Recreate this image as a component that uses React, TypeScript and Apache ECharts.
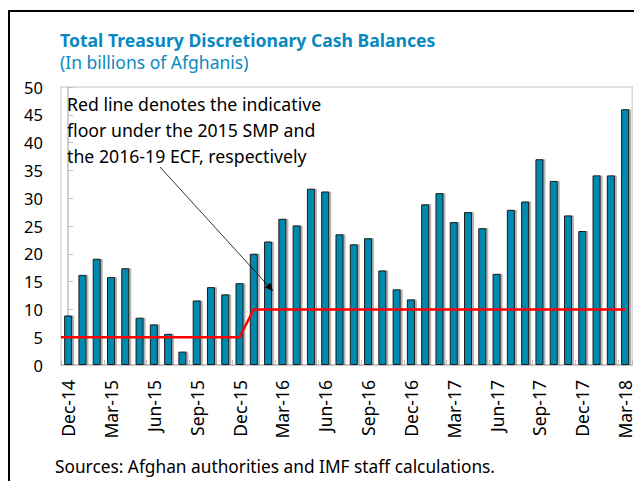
import React, { useEffect, useRef } from "react";
import * as echarts from "echarts";

const categories = [
  "Dec-14","Jan-15","Feb-15","Mar-15","Apr-15","May-15","Jun-15","Jul-15","Aug-15","Sep-15","Oct-15","Nov-15",
  "Dec-15","Jan-16","Feb-16","Mar-16","Apr-16","May-16","Jun-16","Jul-16","Aug-16","Sep-16","Oct-16","Nov-16",
  "Dec-16","Jan-17","Feb-17","Mar-17","Apr-17","May-17","Jun-17","Jul-17","Aug-17","Sep-17","Oct-17","Nov-17",
  "Dec-17","Jan-18","Feb-18","Mar-18",
];

const cashBalances = [
  8.9, 16.2, 19.1, 15.8, 17.4, 8.5, 7.3, 5.6, 2.4, 11.6, 14.0, 12.7,
  14.7, 20.0, 22.2, 26.3, 25.1, 31.7, 31.2, 23.5, 21.7, 22.8, 17.0, 13.6,
  11.8, 28.9, 30.9, 25.7, 27.5, 24.6, 16.4, 27.9, 29.4, 37.0, 33.1, 26.9,
  24.1, 34.1, 34.1, 46.0,
];

const indicativeFloor = [
  5, 5, 5, 5, 5, 5, 5, 5, 5, 5, 5, 5,
  5, 10, 10, 10, 10, 10, 10, 10, 10, 10, 10, 10,
  10, 10, 10, 10, 10, 10, 10, 10, 10, 10, 10, 10,
  10, 10, 10, 10,
];

const yTicks = { min: 0, max: 50, interval: 5 };

const titleText = "Total Treasury Discretionary Cash Balances";
const subtitleText = "(In billions of Afghanis)";
const noteLines = [
  "Red line denotes the indicative",
  "floor under the 2015 SMP and",
  "the 2016-19 ECF, respectively",
];
const sourceText = "Sources: Afghan authorities and IMF staff calculations.";

const FONT = "'Noto Sans', 'Open Sans', sans-serif";

export default function App() {
  const ref = useRef<HTMLDivElement>(null);

  useEffect(() => {
    if (!ref.current) return;
    const chart = echarts.init(ref.current, undefined, { renderer: "svg" });

    const lineData: number[][] = [[-0.5, indicativeFloor[0]]].concat(
      indicativeFloor.map((v, i) => [i, v])
    );

    const tip = [273, 291];
    const dx = 113, dy = 124;
    const len = Math.sqrt(dx * dx + dy * dy);
    const ux = dx / len, uy = dy / len;
    const nx = -uy, ny = ux;
    const bx = tip[0] - 8 * ux, by = tip[1] - 8 * uy;

    chart.setOption({
      animation: false,
      backgroundColor: "#ffffff",
      grid: {
        left: 61,
        top: 87,
        width: 580,
        height: 278,
        show: true,
        borderColor: "#d6d6d6",
        borderWidth: 1.5,
        containLabel: false,
      },
      xAxis: [
        {
          type: "category",
          data: categories,
          boundaryGap: true,
          axisLine: { show: true, lineStyle: { color: "#bfbfbf", width: 1.5 } },
          axisTick: { show: true, inside: true, interval: 2, length: 5, lineStyle: { color: "#bfbfbf" } },
          axisLabel: {
            interval: 2,
            rotate: 90,
            margin: 15,
            color: "#000",
            fontSize: 17.5,
            fontFamily: FONT,
          },
        },
        {
          type: "value",
          min: -0.5,
          max: 39.5,
          show: false,
        },
      ],
      yAxis: {
        type: "value",
        min: yTicks.min,
        max: yTicks.max,
        interval: yTicks.interval,
        axisLine: { show: true, lineStyle: { color: "#bfbfbf", width: 1.5 } },
        axisTick: { show: true, inside: true, length: 5, lineStyle: { color: "#bfbfbf" } },
        splitLine: { show: false },
        axisLabel: { color: "#000", fontSize: 16.5, margin: 18, fontFamily: FONT },
      },
      series: [
        {
          type: "bar",
          xAxisIndex: 0,
          data: cashBalances,
          barWidth: 8,
          itemStyle: {
            color: "#0089ae",
            borderColor: "#1c1c1c",
            borderWidth: 1,
            shadowColor: "rgba(0,0,0,0.3)",
            shadowOffsetX: 2,
            shadowOffsetY: 0,
            shadowBlur: 0,
          },
          z: 2,
        },
        {
          type: "line",
          xAxisIndex: 1,
          data: lineData,
          symbol: "none",
          lineStyle: { color: "#ff0000", width: 2.5 },
          z: 3,
        },
      ],
      graphic: [
        {
          type: "rect",
          shape: { x: 9, y: 11, width: 700, height: 600 },
          style: { fill: "none", stroke: "#000", lineWidth: 2 },
          z: 100,
        },
        {
          type: "text",
          x: 60,
          y: 40,
          style: {
            text: titleText,
            fill: "#0a88c0",
            font: `bold 17.6px ${FONT}`,
            textVerticalAlign: "middle",
          },
        },
        {
          type: "text",
          x: 60,
          y: 62,
          style: {
            text: subtitleText,
            fill: "#0a88c0",
            font: `17.5px ${FONT}`,
            textVerticalAlign: "middle",
          },
        },
        ...noteLines.map((t, i) => ({
          type: "text",
          x: 67,
          y: 104 + i * 26,
          style: {
            text: t,
            fill: "#000",
            font: `17.7px ${FONT}`,
            textVerticalAlign: "middle",
          },
          z: 50,
        })),
        {
          type: "line",
          shape: { x1: 160, y1: 167, x2: bx, y2: by },
          style: { stroke: "#000", lineWidth: 0.8 },
          z: 50,
        },
        {
          type: "polygon",
          shape: {
            points: [
              [tip[0], tip[1]],
              [bx + 3.5 * nx, by + 3.5 * ny],
              [bx - 3.5 * nx, by - 3.5 * ny],
            ],
          },
          style: { fill: "#000" },
          z: 50,
        },
        {
          type: "text",
          x: 55,
          y: 466,
          style: {
            text: sourceText,
            fill: "#000",
            font: `17.3px ${FONT}`,
            textVerticalAlign: "middle",
          },
        },
      ],
    });

    return () => chart.dispose();
  }, []);

  return (
    <div
      ref={ref}
      style={{ position: "fixed", left: 0, top: 0, width: 634, height: 481 }}
    />
  );
}
